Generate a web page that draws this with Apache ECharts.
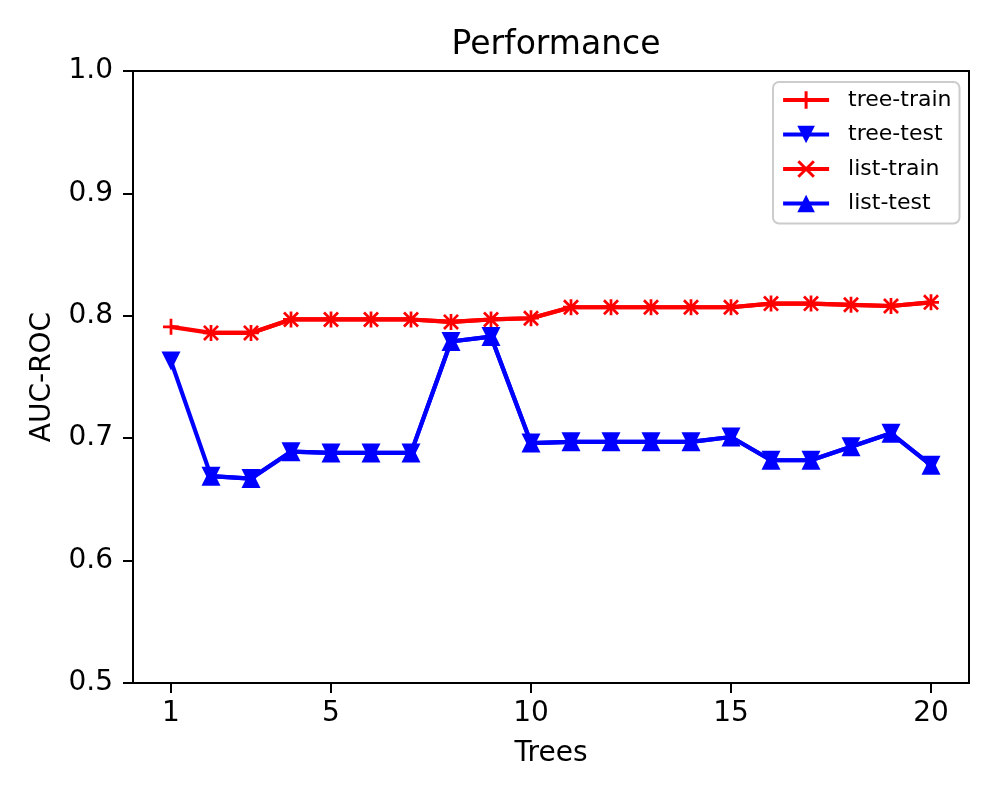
<!DOCTYPE html>
<html>
<head>
<meta charset="UTF-8">
<title>Performance</title>
<script src="https://cdn.jsdelivr.net/npm/echarts@6/dist/echarts.min.js"></script>
<style>
  html, body { margin: 0; padding: 0; background: #fff; }
  #chart { width: 1000px; height: 800px; }
</style>
</head>
<body>
<div id="chart"></div>
<script>
// data
var treeX = [1, 2, 3, 4, 5, 6, 7, 8, 9, 10, 11, 12, 13, 14, 15, 16, 17, 18, 19, 20];
var treeTrain = [0.791, 0.786, 0.786, 0.797, 0.797, 0.797, 0.797, 0.795, 0.797, 0.798,
                 0.807, 0.807, 0.807, 0.807, 0.807, 0.810, 0.810, 0.809, 0.808, 0.811];
var treeTest = [0.763, 0.669, 0.667, 0.689, 0.688, 0.688, 0.688, 0.779, 0.783, 0.696,
                0.697, 0.697, 0.697, 0.697, 0.701, 0.682, 0.682, 0.693, 0.704, 0.678];
var listX = [2, 3, 4, 5, 6, 7, 8, 9, 10, 11, 12, 13, 14, 15, 16, 17, 18, 19, 20];
var listTrain = [0.786, 0.786, 0.797, 0.797, 0.797, 0.797, 0.795, 0.797, 0.798,
                 0.807, 0.807, 0.807, 0.807, 0.807, 0.810, 0.810, 0.809, 0.808, 0.811];
var listTest = [0.669, 0.667, 0.689, 0.688, 0.688, 0.688, 0.779, 0.783, 0.696,
                0.697, 0.697, 0.697, 0.697, 0.701, 0.682, 0.682, 0.693, 0.704, 0.678];
var xTicks = [1, 5, 10, 15, 20];

var FONT = 'DejaVu Sans';
// marker shapes like matplotlib '+' and 'x'
var PLUS = 'path://M-1.7,-10 L1.7,-10 L1.7,10 L-1.7,10 Z M-10,-1.7 L10,-1.7 L10,1.7 L-10,1.7 Z';
var CROSS = 'path://M-10,-7.6 L-7.6,-10 L10,7.6 L7.6,10 Z M10,-7.6 L7.6,-10 L-10,7.6 L-7.6,10 Z';

function pairs(xs, ys) {
    var out = [];
    for (var i = 0; i < xs.length; i++) out.push([xs[i], ys[i]]);
    return out;
}

function lineSeries(name, xs, ys, color, symbol, size, rotate) {
    return {
        name: name,
        type: 'line',
        data: pairs(xs, ys),
        symbol: symbol,
        symbolSize: size,
        symbolRotate: rotate || 0,
        showSymbol: true,
        lineStyle: { color: color, width: 4.2 },
        itemStyle: { color: color, borderWidth: 0 },
        emphasis: { disabled: true }
    };
}

var myChart = echarts.init(document.getElementById('chart'));

var option = {
    animation: false,
    backgroundColor: '#fff',
    title: {
        text: 'Performance',
        left: 551,
        top: 24,
        textAlign: 'center',
        textStyle: { fontFamily: FONT, fontSize: 33, fontWeight: 'normal', color: '#000' }
    },
    legend: {
        orient: 'vertical',
        left: 773,
        top: 82,
        padding: [7, 8, 9, 8],
        itemWidth: 46,
        itemHeight: 22,
        itemGap: 12.5,
        backgroundColor: '#fff',
        borderColor: '#cccccc',
        borderWidth: 2,
        borderRadius: 6,
        lineStyle: { width: 4.2 },
        data: ['tree-train', 'tree-test', 'list-train', 'list-test'],
        textStyle: { fontFamily: FONT, fontSize: 22, color: '#000', padding: [0, 0, 0, 14] }
    },
    grid: {
        left: 133,
        right: 31,
        top: 71,
        bottom: 117,
        show: true,
        borderColor: '#000',
        borderWidth: 2
    },
    xAxis: {
        type: 'value',
        min: 0.05,
        max: 20.95,
        name: 'Trees',
        nameLocation: 'middle',
        nameGap: 57,
        nameTextStyle: { fontFamily: FONT, fontSize: 28, color: '#000' },
        axisLine: { show: true, lineStyle: { color: '#000', width: 2 } },
        axisTick: { show: true, length: 10, lineStyle: { color: '#000', width: 2 }, customValues: xTicks },
        axisLabel: { fontFamily: FONT, fontSize: 28, color: '#000', margin: 17, customValues: xTicks },
        splitLine: { show: false }
    },
    yAxis: {
        type: 'value',
        min: 0.5,
        max: 1.0,
        interval: 0.1,
        name: 'AUC-ROC',
        nameLocation: 'middle',
        nameGap: 76,
        nameRotate: 90,
        nameTextStyle: { fontFamily: FONT, fontSize: 28, color: '#000' },
        axisLine: { show: true, lineStyle: { color: '#000', width: 2 } },
        axisTick: { show: true, length: 10, lineStyle: { color: '#000', width: 2 } },
        axisLabel: {
            fontFamily: FONT, fontSize: 28, color: '#000', margin: 20,
            formatter: function (v) { return v.toFixed(1); }
        },
        splitLine: { show: false }
    },
    series: [
        lineSeries('tree-train', treeX, treeTrain, '#ff0000', PLUS, 16),
        lineSeries('tree-test', treeX, treeTest, '#0000ff', 'triangle', 19, 180),
        lineSeries('list-train', listX, listTrain, '#ff0000', CROSS, 16),
        lineSeries('list-test', listX, listTest, '#0000ff', 'triangle', 19)
    ]
};

myChart.setOption(option);
</script>
</body>
</html>
